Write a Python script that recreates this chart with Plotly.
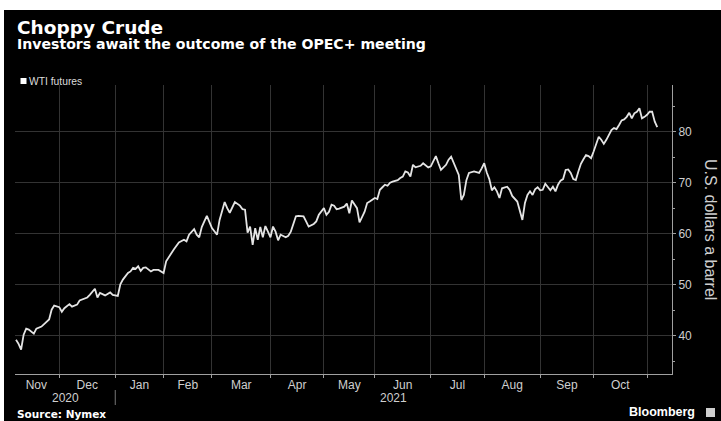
import plotly.graph_objects as go

# ---- data (trading-day index since first point, WTI $/bbl) ----
trading_day = [0, 1, 2, 3, 4, 5, 7, 8, 10, 11, 13, 14, 15, 17, 18, 19, 21, 22, 24, 25,
               26, 28, 29, 31, 32, 33, 35, 36, 37, 38, 40, 41, 42, 44, 45, 46, 47, 48, 49, 50,
               51, 53, 54, 56, 58, 59, 61, 62, 64, 66, 67, 68, 70, 71, 72, 73, 74, 75, 77, 79,
               80, 82, 83, 84, 86, 87, 88, 89, 90, 91, 92, 93, 94, 95, 96, 97, 98, 99, 100, 101,
               102, 103, 104, 106, 107, 108, 110, 111, 113, 114, 115, 117, 118, 119, 121, 122, 123, 124, 125, 126,
               127, 129, 130, 131, 132, 134, 135, 137, 138, 139, 140, 141, 142, 143, 144, 145, 146, 147, 148, 150,
               151, 152, 153, 154, 155, 156, 157, 159, 160, 162, 163, 164, 165, 166, 167, 169, 170, 171, 172, 173,
               174, 175, 176, 177, 178, 180, 182, 183, 184, 185, 186, 187, 188, 189, 190, 191, 193, 194, 195, 197,
               198, 199, 200, 201, 202, 203, 204, 205, 206, 207, 208, 209, 210, 211, 212, 213, 214, 215, 216, 217,
               218, 219, 220, 221, 222, 223, 224, 225, 226, 227, 228, 229, 230, 231, 232, 233, 234, 235, 236, 237,
               238, 239, 240, 241, 242, 243, 244, 245, 246, 247, 248, 249, 250, 251, 252]
wti_price = [39.2, 38.4, 37.3, 40.2, 41.4, 41.2, 40.4, 41.4, 41.8, 42.3, 43.2, 45.1, 45.9, 45.6, 44.7, 45.4, 46.2, 45.7, 46.1, 46.9,
             47.1, 47.5, 48.0, 49.2, 47.5, 48.4, 47.9, 48.2, 48.5, 48.0, 47.8, 50.1, 51.0, 52.3, 52.6, 53.3, 53.1, 53.6, 52.7, 53.3,
             53.4, 52.6, 52.9, 52.9, 52.3, 54.6, 56.2, 56.9, 58.3, 58.8, 58.5, 59.8, 60.9, 59.8, 59.3, 61.3, 62.4, 63.5, 61.1, 59.8,
             62.7, 66.2, 65.0, 64.1, 66.2, 65.9, 65.5, 64.8, 64.7, 60.2, 61.4, 57.8, 61.1, 58.8, 61.3, 59.3, 61.5, 60.4, 59.3, 61.4,
             60.4, 58.7, 59.8, 59.3, 59.6, 60.4, 63.4, 63.5, 63.4, 62.4, 61.4, 61.9, 62.4, 63.7, 65.0, 63.7, 64.3, 65.7, 65.5, 64.8,
             64.9, 65.3, 65.9, 64.0, 66.5, 65.0, 62.2, 64.3, 66.0, 66.3, 66.6, 67.0, 66.8, 68.6, 69.1, 69.6, 69.4, 70.0, 70.2, 70.5,
             70.9, 71.2, 72.2, 72.0, 71.2, 73.5, 73.0, 73.3, 73.8, 73.0, 73.2, 74.1, 75.2, 73.8, 72.5, 73.5, 74.5, 75.1, 73.8, 72.5,
             71.5, 66.6, 67.6, 70.5, 71.9, 72.2, 71.9, 72.8, 73.8, 72.0, 70.7, 68.5, 69.1, 68.3, 67.0, 68.9, 69.2, 68.6, 67.4, 66.3,
             64.7, 62.7, 66.0, 67.6, 68.3, 67.6, 68.7, 69.1, 68.5, 68.6, 69.8, 69.1, 68.5, 69.2, 68.3, 69.6, 70.4, 70.7, 72.5, 72.6,
             71.9, 70.7, 70.5, 72.2, 73.7, 74.6, 75.4, 75.2, 74.8, 76.1, 77.4, 79.0, 78.4, 77.6, 78.4, 79.4, 80.3, 80.7, 80.5, 81.3,
             82.2, 82.4, 82.9, 83.7, 82.6, 83.6, 83.9, 84.6, 82.6, 82.9, 83.3, 83.9, 83.9, 82.0, 80.9]

# month boundaries (trading-day index of the first session of each month)
month_bounds = [-1, 17, 39, 58, 77, 100, 121, 141, 163, 184, 206, 227, 248]
month_labels = ["Nov", "Dec", "Jan", "Feb", "Mar", "Apr", "May", "Jun", "Jul", "Aug", "Sep", "Oct"]
year_labels = ["2020", "2021"]
year_break = 39
x_range = [-0.4, 257.8]
y_range = [32.5, 89.14]
y_ticks = [40, 50, 60, 70, 80]
y_minor_ticks = [35, 45, 55, 65, 75, 85]

# ---- geometry ----
W, H = 721, 421
ML, MR, MT, MB = 15, 49, 85, 47
PW, PH = W - ML - MR, H - MT - MB


def xp(px):
    return (px - ML) / PW


def yp(py):
    return (H - MB - py) / PH


GRID = "#333333"
AXIS = "#a0a0a0"
LABEL = "#cfcfcf"

fig = go.Figure()
fig.add_trace(go.Scatter(
    x=trading_day, y=wti_price, mode="lines",
    line=dict(color="#e4e4e4", width=1.8),
    showlegend=False, hoverinfo="skip",
))

month_mid = [(month_bounds[i] + month_bounds[i + 1]) / 2 for i in range(len(month_labels))]

fig.update_xaxes(
    range=x_range, showgrid=False, zeroline=False,
    tickmode="array", tickvals=month_mid, ticktext=month_labels, ticks="",
    tickfont=dict(family="Liberation Sans", size=12, color=LABEL),
    showline=True, linecolor=AXIS, linewidth=1,
    minor=dict(tickmode="array", tickvals=month_bounds[1:], ticks="outside", ticklen=3,
               tickcolor=AXIS, showgrid=True, gridcolor=GRID, gridwidth=1),
)
fig.update_yaxes(
    range=y_range, side="right", zeroline=False,
    tickmode="array", tickvals=y_ticks, ticks="outside", ticklen=3, tickcolor=AXIS,
    showgrid=True, gridcolor=GRID, gridwidth=1,
    tickfont=dict(family="Liberation Sans", size=12, color=LABEL),
    showline=True, linecolor=AXIS, linewidth=1,
    minor=dict(tickmode="array", tickvals=y_minor_ticks, ticks="outside", ticklen=2, tickcolor=AXIS,
               showgrid=False),
)

annotations = [
    dict(x=xp(15), y=yp(27), xref="paper", yref="paper", xanchor="left", yanchor="middle",
         text="<b>Choppy Crude</b>", showarrow=False,
         font=dict(family="DejaVu Sans", size=18.5, color="#ffffff")),
    dict(x=xp(15), y=yp(44.5), xref="paper", yref="paper", xanchor="left", yanchor="middle",
         text="<b>Investors await the outcome of the OPEC+ meeting</b>", showarrow=False,
         font=dict(family="DejaVu Sans", size=14.1, color="#ffffff")),
    dict(x=xp(27), y=yp(81), xref="paper", yref="paper", xanchor="left", yanchor="middle",
         text="WTI futures", showarrow=False,
         font=dict(family="Liberation Sans", size=10.3, color="#dddddd")),
    dict(x=xp(15), y=yp(414), xref="paper", yref="paper", xanchor="left", yanchor="middle",
         text="<b>Source: Nymex</b>", showarrow=False,
         font=dict(family="DejaVu Sans", size=10.5, color="#ffffff")),
    dict(x=xp(697), y=yp(412), xref="paper", yref="paper", xanchor="right", yanchor="middle",
         text="<b>Bloomberg</b>", showarrow=False,
         font=dict(family="Liberation Sans", size=12.5, color="#ffffff")),
    dict(x=xp(711), y=yp(229), xref="paper", yref="paper", xanchor="center", yanchor="middle",
         text="U.S. dollars a barrel", textangle=90, showarrow=False,
         font=dict(family="Liberation Sans", size=16, color=LABEL)),
]
year_spans = [(x_range[0], year_break), (year_break, x_range[1])]
for lab, (a, b) in zip(year_labels, year_spans):
    annotations.append(dict(x=(a + b) / 2, y=yp(398), xref="x", yref="paper",
                            xanchor="center", yanchor="middle", text=lab, showarrow=False,
                            font=dict(family="Liberation Sans", size=12, color=LABEL)))

shapes = [
    # black card with thin white border at top/left
    dict(type="rect", xref="paper", yref="paper", x0=xp(4), x1=xp(W + 2), y0=yp(H + 2), y1=yp(10),
         fillcolor="#000000", line=dict(width=0), layer="below"),
    # legend swatch
    dict(type="rect", xref="paper", yref="paper", x0=xp(20.5), x1=xp(26.5), y0=yp(84), y1=yp(78),
         fillcolor="#ffffff", line=dict(width=0)),
    # year separator
    dict(type="line", xref="x", yref="paper", x0=year_break, x1=year_break, y0=yp(405), y1=yp(390),
         line=dict(color="#777777", width=1)),
    # Bloomberg icon
    dict(type="rect", xref="paper", yref="paper", x0=xp(706), x1=xp(715), y0=yp(417), y1=yp(408),
         fillcolor="#cfcfcf", line=dict(width=0)),
]

fig.update_layout(
    width=W, height=H, margin=dict(l=ML, r=MR, t=MT, b=MB, pad=0),
    paper_bgcolor="#ffffff", plot_bgcolor="rgba(0,0,0,0)",
    annotations=annotations, shapes=shapes, showlegend=False,
)

fig.write_html("out.html")
